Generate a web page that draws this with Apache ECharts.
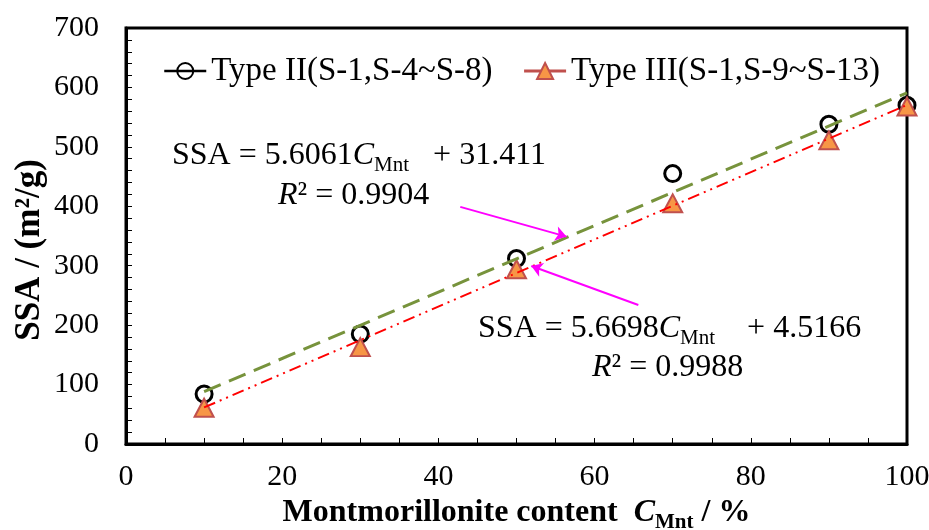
<!DOCTYPE html>
<html><head><meta charset="utf-8">
<script src="https://cdn.jsdelivr.net/npm/echarts@6/dist/echarts.min.js"></script>
<style>html,body{margin:0;padding:0;background:#fff}#c{width:929px;height:530px}</style>
</head><body><div id="c"></div>
<script>
// ---- data ----
const xValues = [10, 30, 50, 70, 90, 100];
const typeII = [84, 185, 312, 455, 538, 570];
const typeIII = [61, 163, 294, 405, 511, 568];
const fitX = [10, 100];
const fitII = [88, 591];
const fitIII = [61.5, 570.5];
const seriesNames = ['Type II(S-1,S-4~S-8)', 'Type III(S-1,S-9~S-13)'];
const xTickValues = [0, 20, 40, 60, 80, 100];
const yTickValues = [0, 100, 200, 300, 400, 500, 600, 700];
const arrow1 = [[42.8, 399], [56.4, 349]];
const arrow2 = [[65.6, 234], [51.9, 299.5]];
const eq1 = {slope: '5.6061', intercept: '31.411', r2: '0.9904'};
const eq2 = {slope: '5.6698', intercept: '4.5166', r2: '0.9988'};

const FF = '"Liberation Serif","Times New Roman",serif';
const zip = (xs, ys) => xs.map((x, i) => [x, ys[i]]);

const eqRich = {
  n: {fontFamily: FF, fontSize: 32, lineHeight: 40, fill: '#000'},
  i: {fontFamily: FF, fontSize: 32, lineHeight: 40, fontStyle: 'italic', fill: '#000'},
  s: {fontFamily: FF, fontSize: 21, lineHeight: 18, verticalAlign: 'bottom', fill: '#000'}
};
const axisCommon = {
  axisLine: {show: true, lineStyle: {color: '#000', width: 3}},
  axisTick: {show: true, inside: true, length: 6, lineStyle: {color: '#000', width: 1}},
  minorTick: {show: true, length: 6, lineStyle: {color: '#000', width: 1}},
  splitLine: {show: false},
  axisLabel: {fontFamily: FF, fontSize: 30, color: '#000'}
};

const chart = echarts.init(document.getElementById('c'), null, {renderer: 'canvas'});
chart.setOption({
  animation: false,
  backgroundColor: '#fff',
  grid: {left: 126, right: 22, top: 28, bottom: 86, show: true, borderColor: '#000', borderWidth: 3,
         containLabel: false, outerBoundsMode: 'none'},
  legend: {
    left: 158, top: 46, itemWidth: 42, itemHeight: 20, itemGap: 30,
    textStyle: {fontFamily: FF, fontSize: 33, color: '#000', lineHeight: 40},
    data: [
      {name: seriesNames[0], lineStyle: {color: '#000', width: 2.5, opacity: 1}},
      {name: seriesNames[1], lineStyle: {color: '#c0504d', width: 3, opacity: 1}}
    ]
  },
  xAxis: Object.assign({}, axisCommon, {
    type: 'value', min: 0, max: 100, interval: 20,
    minorTick: Object.assign({}, axisCommon.minorTick, {splitNumber: 4}),
    axisLabel: Object.assign({}, axisCommon.axisLabel, {margin: 18}),
    name: '{b|Montmorillonite content  }{i|C}{s|Mnt}{b| / %}',
    nameLocation: 'middle', nameGap: 33,
    nameTextStyle: {rich: {
      b: {fontFamily: FF, fontSize: 32, fontWeight: 'bold', lineHeight: 40, color: '#000'},
      i: {fontFamily: FF, fontSize: 32, fontWeight: 'bold', fontStyle: 'italic', lineHeight: 40, color: '#000'},
      s: {fontFamily: FF, fontSize: 21, fontWeight: 'bold', lineHeight: 18, verticalAlign: 'bottom', color: '#000'}
    }}
  }),
  yAxis: Object.assign({}, axisCommon, {
    type: 'value', min: 0, max: 700, interval: 100,
    minorTick: Object.assign({}, axisCommon.minorTick, {splitNumber: 5}),
    axisLabel: Object.assign({}, axisCommon.axisLabel, {margin: 27})
  }),
  graphic: [
    {type: 'text', x: 30, y: 250, rotation: Math.PI / 2,
     style: {text: 'SSA / (m²/g)', fontFamily: FF, fontSize: 35, fontWeight: 'bold', fill: '#000', align: 'center', verticalAlign: 'middle'}},
    {type: 'text', x: 172, y: 156,
     style: {text: '{n|SSA = ' + eq1.slope + '}{i|C}{s|Mnt}{n|   + ' + eq1.intercept + '}', rich: eqRich, align: 'left', verticalAlign: 'middle'}},
    {type: 'text', x: 278, y: 196,
     style: {text: '{i|R}{n|² = ' + eq1.r2 + '}', rich: eqRich, align: 'left', verticalAlign: 'middle'}},
    {type: 'text', x: 478, y: 329,
     style: {text: '{n|SSA = ' + eq2.slope + '}{i|C}{s|Mnt}{n|    + ' + eq2.intercept + '}', rich: eqRich, align: 'left', verticalAlign: 'middle'}},
    {type: 'text', x: 592, y: 368,
     style: {text: '{i|R}{n|² = ' + eq2.r2 + '}', rich: eqRich, align: 'left', verticalAlign: 'middle'}}
  ],
  series: [
    {
      name: seriesNames[0], type: 'line', data: zip(xValues, typeII),
      symbol: 'circle', symbolSize: 16, showSymbol: true,
      lineStyle: {width: 0},
      itemStyle: {color: 'rgba(255,255,255,0)', borderColor: '#000', borderWidth: 3},
      clip: false, z: 3
    },
    {
      name: seriesNames[1], type: 'line', data: zip(xValues, typeIII),
      symbol: 'triangle', symbolSize: [19, 18], showSymbol: true,
      lineStyle: {width: 0},
      itemStyle: {color: '#f79646', borderColor: '#c0504d', borderWidth: 2},
      clip: false, z: 3
    },
    {
      name: 'fitII', type: 'line', data: zip(fitX, fitII), symbol: 'none', silent: true,
      lineStyle: {color: '#77933c', width: 3, type: [18, 9]}, z: 4
    },
    {
      name: 'fitIII', type: 'line', data: zip(fitX, fitIII), symbol: 'none', silent: true,
      lineStyle: {color: '#ff0000', width: 2, type: [12, 5, 2, 5, 2, 5]}, z: 4,
      markLine: {
        silent: true, symbol: ['none', 'arrow'], symbolSize: 11,
        lineStyle: {color: '#ff00ff', width: 2, type: 'solid'},
        label: {show: false},
        data: [
          [{coord: arrow1[0]}, {coord: arrow1[1]}],
          [{coord: arrow2[0]}, {coord: arrow2[1]}]
        ]
      }
    }
  ]
});
</script></body></html>
